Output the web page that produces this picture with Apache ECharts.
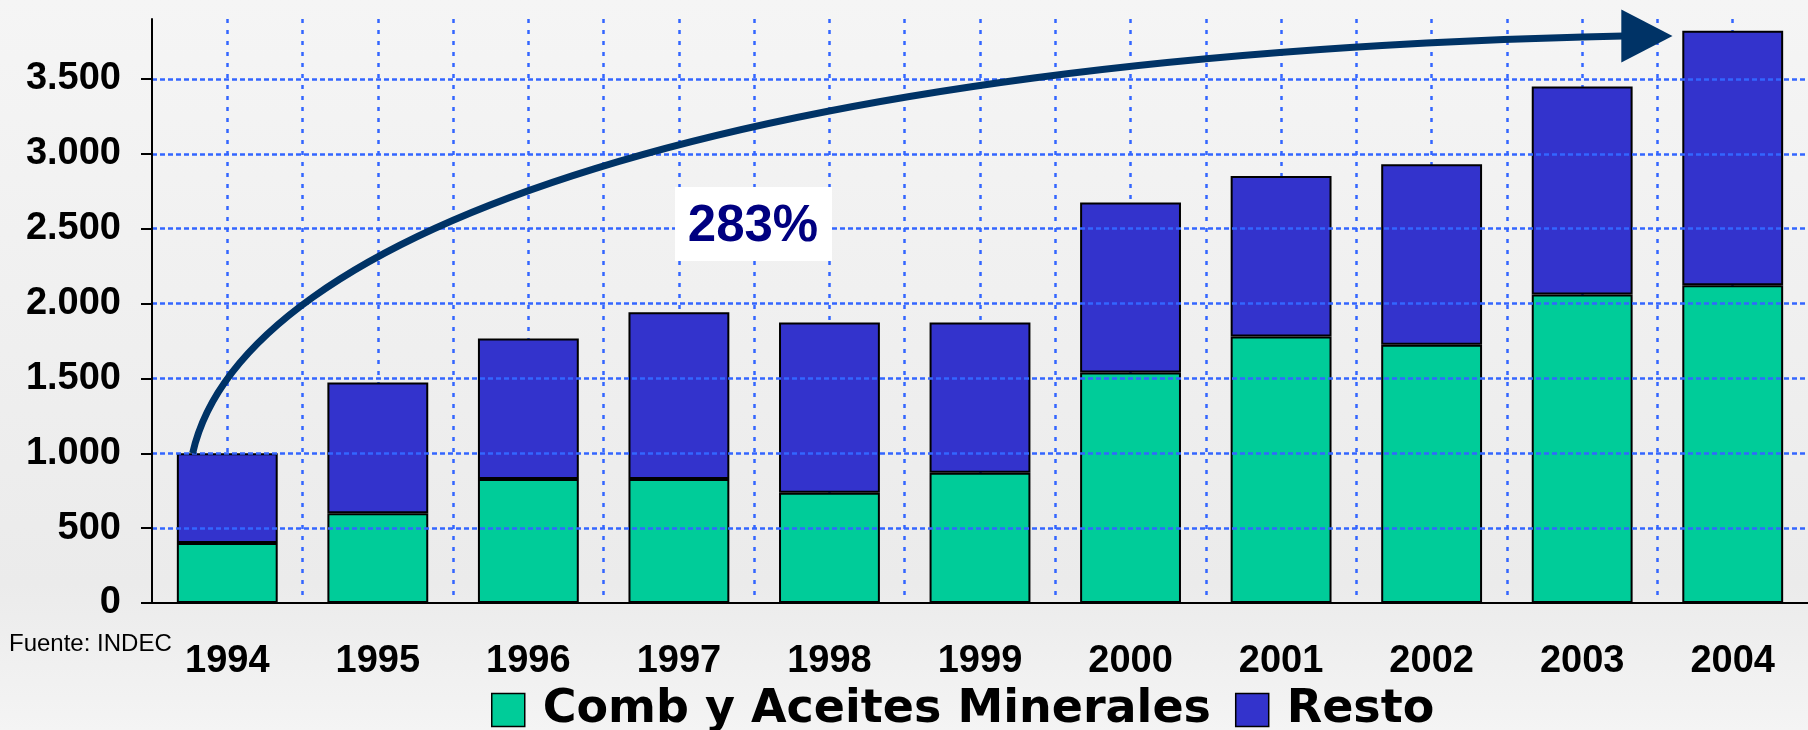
<!DOCTYPE html>
<html>
<head>
<meta charset="utf-8">
<title>Importaciones 1994-2004</title>
<script src="https://cdn.jsdelivr.net/npm/echarts@6/dist/echarts.min.js"></script>
<style>
  html, body { margin: 0; padding: 0; }
  #main { width: 1808px; height: 730px; }
</style>
</head>
<body>
<div id="main"></div>
<script>
var years = ['1994', '1995', '1996', '1997', '1998', '1999', '2000', '2001', '2002', '2003', '2004'];
var combValues = [400, 600, 828, 828, 736, 870, 1540, 1780, 1725, 2060, 2122];
var restoValues = [600, 873, 939, 1113, 1138, 1004, 1135, 1071, 1205, 1390, 1700];
var yTicks = [0, 500, 1000, 1500, 2000, 2500, 3000, 3500];
var seriesNames = ['Comb y Aceites Minerales', 'Resto'];
// arrow: bezier anchors in (category units, value) space, last point is the tip
var arrowX = [0.27, 0.6, 3.9, 9.76, 10.1];
var arrowY = [1000, 2480, 3660, 3786, 3786];
var growthLabel = '283%';

var chart = echarts.init(document.getElementById('main'));

var gridBlue = '#3366ff';
var labelFont = '"Liberation Sans", Arial, sans-serif';

// vertical dotted grid: skip the line sitting on the y axis
var vColors = ['transparent'];
for (var i = 0; i < 21; i++) vColors.push(gridBlue);

var option = {
    animation: false,
    backgroundColor: new echarts.graphic.LinearGradient(0, 0, 0, 1, [
        {offset: 0, color: '#f5f5f5'},
        {offset: 0.8, color: '#ebebeb'},
        {offset: 1, color: '#f4f4f4'}
    ]),
    grid: {left: 152, right: -5, top: 19, bottom: 127},
    legend: {
        data: seriesNames,
        left: 491,
        top: 687,
        padding: 0,
        itemWidth: 33,
        itemHeight: 33,
        itemGap: 24,
        icon: 'rect',
        itemStyle: {borderColor: '#000', borderWidth: 1.5},
        textStyle: {
            fontFamily: '"DejaVu Sans", sans-serif',
            fontWeight: 'bold',
            fontSize: 46,
            color: '#000',
            padding: [0, 0, 0, 13]
        }
    },
    xAxis: [
        {
            type: 'category',
            data: years,
            axisLine: {lineStyle: {color: '#000', width: 2}},
            axisTick: {length: 12, lineStyle: {color: '#000', width: 2}},
            axisLabel: {
                margin: 40,
                color: '#000',
                fontFamily: labelFont,
                fontWeight: 'bold',
                fontSize: 38
            },
            splitLine: {show: false}
        },
        {
            // only used for the dotted vertical grid (every half category)
            type: 'value',
            min: 0,
            max: 11,
            interval: 0.5,
            position: 'bottom',
            axisLine: {show: false},
            axisTick: {show: false},
            axisLabel: {show: false},
            splitLine: {
                show: true,
                lineStyle: {color: vColors, width: 2.5, type: [4, 7]}
            }
        }
    ],
    yAxis: {
        type: 'value',
        min: 0,
        max: 3900,
        interval: 500,
        z: 5,
        axisLine: {show: true, lineStyle: {color: '#000', width: 2}},
        axisTick: {show: true, length: 11, customValues: yTicks, lineStyle: {color: '#000', width: 2}},
        axisLabel: {
            customValues: yTicks,
            margin: 31,
            color: '#000',
            fontFamily: labelFont,
            fontWeight: 'bold',
            fontSize: 38,
            formatter: function (v) {
                return String(v).replace(/\B(?=(\d{3})+(?!\d))/g, '.');
            }
        },
        splitLine: {
            show: true,
            lineStyle: {
                color: ['transparent', gridBlue, gridBlue, gridBlue, gridBlue, gridBlue, gridBlue, gridBlue, 'transparent'],
                width: 2.5,
                type: [5, 3]
            }
        }
    },
    series: [
        {
            name: seriesNames[0],
            type: 'bar',
            stack: 'total',
            barWidth: '67%',
            data: combValues,
            itemStyle: {color: '#00cc99', borderColor: '#000', borderWidth: 2}
        },
        {
            name: seriesNames[1],
            type: 'bar',
            stack: 'total',
            barWidth: '67%',
            data: restoValues,
            itemStyle: {color: '#3333cc', borderColor: '#000', borderWidth: 2}
        }
    ]
};
chart.setOption(option);

function px(i) {
    return chart.convertToPixel({xAxisIndex: 1, yAxisIndex: 0}, [arrowX[i], arrowY[i]]);
}
var p0 = px(0), p1 = px(1), p2 = px(2), p3 = px(3), tip = px(4);
var head = 26.5;

chart.setOption({
    graphic: [
        {
            type: 'bezierCurve',
            shape: {x1: p0[0], y1: p0[1], cpx1: p1[0], cpy1: p1[1], cpx2: p2[0], cpy2: p2[1], x2: p3[0] + 2, y2: p3[1]},
            style: {stroke: '#003366', lineWidth: 7, fill: null},
            z: 10
        },
        {
            type: 'polygon',
            shape: {points: [[p3[0], p3[1] - head], [tip[0], tip[1]], [p3[0], p3[1] + head]]},
            style: {fill: '#003366'},
            z: 10
        },
        {
            type: 'rect',
            shape: {x: 675, y: 187, width: 157, height: 74},
            style: {fill: '#ffffff'},
            z: 11
        },
        {
            type: 'text',
            x: 753,
            y: 227,
            style: {
                text: growthLabel,
                align: 'center',
                verticalAlign: 'middle',
                fontFamily: labelFont,
                fontWeight: 'bold',
                fontSize: 51,
                fill: '#000080'
            },
            z: 12
        },
        {
            type: 'text',
            x: 9,
            y: 644,
            style: {
                text: 'Fuente: INDEC',
                verticalAlign: 'middle',
                fontFamily: labelFont,
                fontSize: 24,
                fill: '#000'
            },
            z: 12
        }
    ]
});
</script>
</body>
</html>
